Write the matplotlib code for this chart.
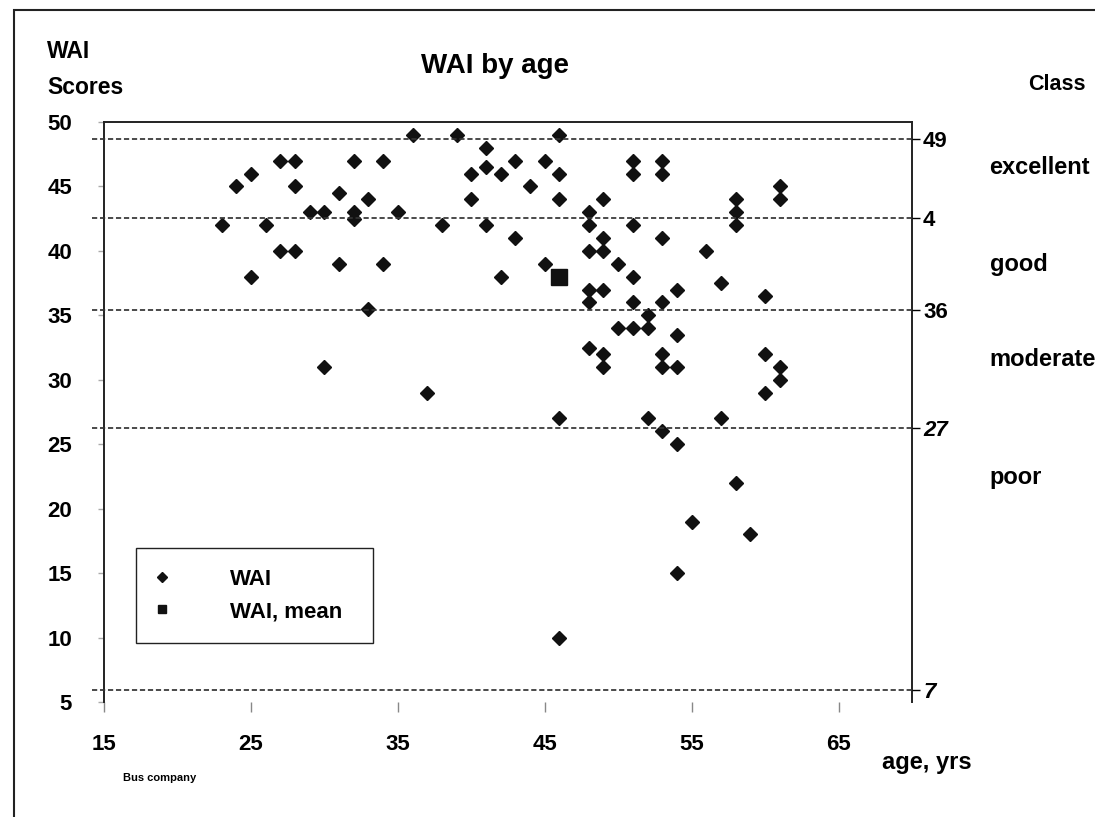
import matplotlib
matplotlib.use('Agg')
import matplotlib.pyplot as plt
from matplotlib.lines import Line2D
from matplotlib.patches import Rectangle
from matplotlib.transforms import blended_transform_factory

plt.rcParams['font.family'] = ['Liberation Sans', 'DejaVu Sans']
plt.rcParams['font.weight'] = 'bold'

# WAI score per driver, by age
age = [23, 24, 25, 25, 26, 27, 28, 28, 27, 28, 29, 30, 30, 31, 31, 32, 32, 32,
       33, 33, 34, 34, 35, 36, 37, 38, 39, 40, 40, 41, 41, 41, 42, 42, 43, 43,
       44, 45, 45, 46, 46, 46, 46, 46,
       48, 48, 48, 48, 48, 48, 49, 49, 49, 49, 49, 49, 50, 50,
       51, 51, 51, 51, 51, 51, 52, 52, 52, 53, 53, 53, 53, 53, 53, 53,
       54, 54, 54, 54, 54, 55, 56, 57, 57, 58, 58, 58, 58, 59,
       60, 60, 60, 61, 61, 61, 61]
wai = [42, 45, 46, 38, 42, 47, 47, 45, 40, 40, 43, 43, 31, 44.5, 39, 47, 43, 42.5,
       44, 35.5, 47, 39, 43, 49, 29, 42, 49, 46, 44, 48, 46.5, 42, 46, 38, 47, 41,
       45, 47, 39, 49, 46, 44, 27, 10,
       43, 42, 40, 37, 36, 32.5, 44, 41, 40, 37, 32, 31, 39, 34,
       47, 46, 42, 38, 36, 34, 35, 34, 27, 47, 46, 41, 36, 32, 31, 26,
       37, 33.5, 31, 25, 15, 19, 40, 37.5, 27, 44, 43, 42, 22, 18,
       36.5, 32, 29, 45, 44, 31, 30]
mean_age = [46]
mean_wai = [38]

# class limits as drawn on the right-hand scale
class_cut = [49, 43, 36, 27, 7]
class_cut_labels = ['49', '4', '36', '27', '7']
class_names = ['excellent', 'good', 'moderate', 'poor']
class_name_y = [46.8, 39.4, 32.2, 23.2]

x_ticks = [15, 25, 35, 45, 55, 65]
y_ticks = [5, 10, 15, 20, 25, 30, 35, 40, 45, 50]

fig = plt.figure(figsize=(10.95, 8.17), dpi=100)
ax = fig.add_axes([104 / 1095, 1 - 702 / 817, 808 / 1095, 580 / 817])

ax.plot(age, wai, ls='', marker='D', ms=7.5, color='#111111', zorder=3)
ax.plot(mean_age, mean_wai, ls='', marker='s', ms=11, color='#111111', zorder=3)

ax.set_xlim(15, 70)
ax.set_ylim(5, 50)
ax.set_xticks(x_ticks)
ax.set_yticks(y_ticks)
ax.tick_params(axis='x', direction='out', length=7, width=1, color='#888888',
               pad=16, labelsize=16)
ax.tick_params(axis='y', direction='out', length=4, width=1, color='#aaaaaa',
               pad=19, labelsize=16)
ax.spines['bottom'].set_visible(False)
for s in ['top', 'left', 'right']:
    ax.spines[s].set_linewidth(1.4)
    ax.spines[s].set_color('#222222')

# right-hand class scale
ax2 = ax.twinx()
ax2.set_ylim(6.09, 50.3)
ax2.set_yticks(class_cut)
ax2.set_yticklabels(class_cut_labels)
ax2.tick_params(axis='y', direction='out', length=6, width=1, pad=2, labelsize=16)
for lab, txt in zip(ax2.get_yticklabels(), class_cut_labels):
    if txt in ('27', '7'):
        lab.set_style('italic')
for s in ax2.spines.values():
    s.set_visible(False)
for c in class_cut:
    ax2.axhline(c, xmin=-0.015, xmax=1.0, color='#333333', lw=1.25,
                ls=(0, (3, 1.6)), clip_on=False, zorder=1)

tr = blended_transform_factory(ax2.transAxes, ax2.transData)
for name, y in zip(class_names, class_name_y):
    ax2.text(1.096, y, name, transform=tr, ha='left', va='center', fontsize=17,
             clip_on=False)

handles = [Line2D([], [], ls='', marker='D', ms=5, color='#111111'),
           Line2D([], [], ls='', marker='s', ms=6, color='#111111')]
leg = ax.legend(handles, ['WAI', 'WAI, mean'], loc='upper left',
                bbox_to_anchor=(0.0396, 0.0955, 0.2933, 0.17), mode='expand',
                borderaxespad=0, fancybox=False, edgecolor='#222222', framealpha=1,
                fontsize=16, handlelength=0.4, handletextpad=2.9, borderpad=0.95,
                labelspacing=0.5)
leg.get_frame().set_linewidth(1.0)

fig.text(47 / 1095, 1 - 52 / 817, 'WAI', fontsize=16.5, ha='left', va='center')
fig.text(47 / 1095, 1 - 88 / 817, 'Scores', fontsize=16.5, ha='left', va='center')
fig.text(495 / 1095, 1 - 66 / 817, 'WAI by age', fontsize=20,
         ha='center', va='center')
fig.text(1057 / 1095, 1 - 84 / 817, 'Class', fontsize=15.5, ha='center', va='center')
fig.text(927 / 1095, 1 - 762 / 817, 'age, yrs', fontsize=17, ha='center', va='center')
fig.text(160 / 1095, 1 - 778 / 817, 'Bus company', fontsize=8, ha='center', va='center')

fig.patches.append(Rectangle((14 / 1095, -0.1), 1.2, 1.1 - 10 / 817, fill=False,
                             lw=1.5, ec='#222222', transform=fig.transFigure))

fig.savefig('out.png', dpi=100)
